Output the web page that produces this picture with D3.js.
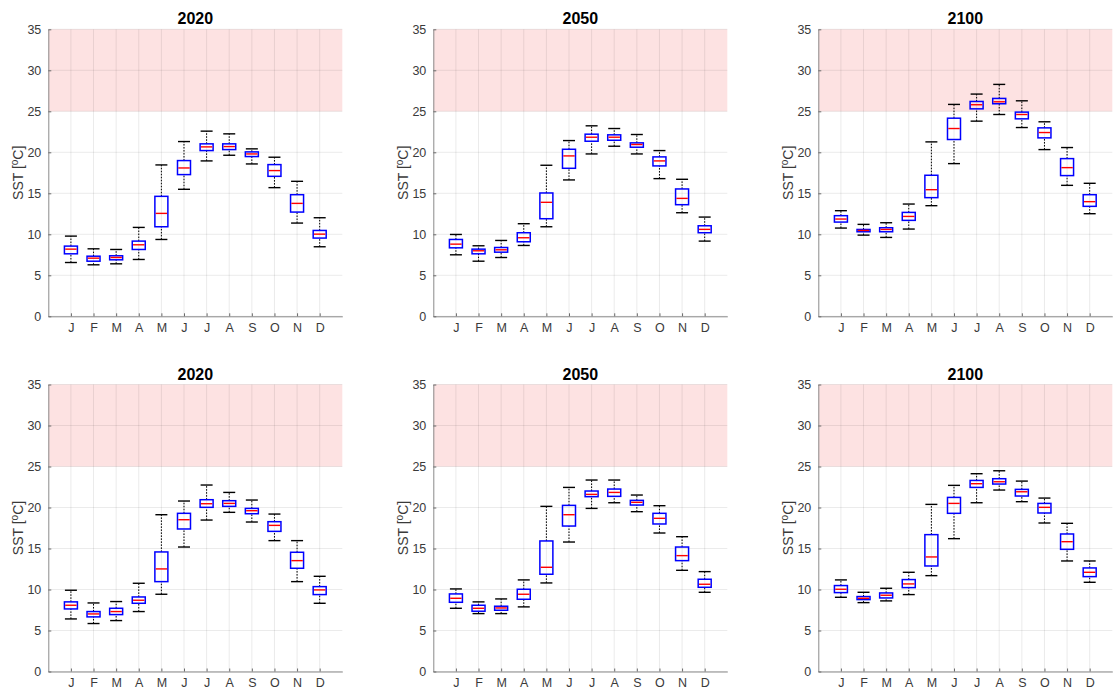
<!DOCTYPE html>
<html>
<head>
<meta charset="utf-8">
<script src="https://cdn.jsdelivr.net/npm/d3@7"></script>
<style>
  html, body { margin: 0; padding: 0; background: #fff; }
  svg { display: block; font-family: "Liberation Sans", Arial, Helvetica, sans-serif; }
</style>
</head>
<body>
<svg id="chart" width="1116" height="693"></svg>
<script>
// Month labels and their positions on the x axis
const months = ["J", "F", "M", "A", "M", "J", "J", "A", "S", "O", "N", "D"];
const yTicks = [0, 5, 10, 15, 20, 25, 30, 35];
const stressBand = [25, 35];   // shaded SST range (°C)

// Monthly SST statistics: [lower whisker, Q1, median, Q3, upper whisker]
const rowA2020 = [
  [6.56, 7.62, 8.19, 8.56, 9.78], [6.28, 6.72, 7.09, 7.33, 8.23], [6.40, 6.89, 7.17, 7.38, 8.15],
  [6.93, 8.15, 8.72, 9.17, 10.84], [9.37, 10.92, 12.55, 14.63, 18.46], [15.49, 17.28, 18.09, 18.99, 21.31],
  [18.95, 20.21, 20.66, 21.03, 22.58], [19.64, 20.33, 20.70, 21.03, 22.25], [18.58, 19.48, 19.80, 20.05, 20.42],
  [15.69, 17.07, 17.77, 18.50, 19.40], [11.37, 12.71, 13.77, 14.83, 16.46], [8.48, 9.54, 10.02, 10.47, 12.02]
];
const rowA2050 = [
  [7.50, 8.35, 8.80, 9.37, 9.98], [6.72, 7.62, 7.99, 8.19, 8.60], [7.17, 7.82, 8.11, 8.39, 9.25],
  [8.64, 9.09, 9.58, 10.19, 11.29], [10.92, 11.90, 13.90, 15.04, 18.42], [16.63, 18.05, 19.56, 20.37, 21.43],
  [19.80, 21.35, 21.84, 22.21, 23.23], [20.74, 21.47, 21.84, 22.13, 22.90], [19.80, 20.62, 20.95, 21.15, 22.17],
  [16.79, 18.34, 18.95, 19.44, 20.21], [12.63, 13.61, 14.38, 15.53, 16.71], [9.17, 10.19, 10.60, 11.04, 12.10]
];
const rowA2100 = [
  [10.76, 11.49, 11.86, 12.27, 12.88], [9.90, 10.31, 10.47, 10.59, 11.21], [9.62, 10.31, 10.59, 10.80, 11.41],
  [10.64, 11.70, 12.18, 12.67, 13.69], [13.49, 14.47, 15.44, 17.20, 21.27], [18.62, 21.56, 22.90, 24.16, 25.84],
  [23.80, 25.30, 25.80, 26.20, 27.10], [24.61, 25.92, 26.16, 26.57, 28.28], [23.02, 24.08, 24.61, 24.90, 26.28],
  [20.33, 21.76, 22.41, 22.98, 23.72], [15.97, 17.16, 18.13, 19.23, 20.58], [12.51, 13.41, 13.98, 14.83, 16.22]
];
const rowB2020 = [
  [6.41, 7.63, 8.08, 8.49, 9.91], [5.85, 6.66, 7.02, 7.31, 8.36], [6.21, 6.94, 7.31, 7.71, 8.53],
  [7.31, 8.32, 8.69, 9.09, 10.76], [9.42, 10.96, 12.51, 14.58, 19.12], [15.18, 17.38, 18.51, 19.29, 20.79],
  [18.47, 20.02, 20.46, 20.95, 22.74], [19.41, 20.14, 20.50, 20.83, 21.84], [18.23, 19.24, 19.61, 19.89, 20.91],
  [15.96, 17.09, 17.82, 18.27, 19.20], [10.96, 12.59, 13.52, 14.54, 15.96], [8.32, 9.38, 9.95, 10.35, 11.61]
];
const rowB2050 = [
  [7.71, 8.44, 8.93, 9.46, 10.07], [7.06, 7.35, 7.71, 8.08, 8.49], [7.06, 7.47, 7.75, 7.96, 8.85],
  [7.88, 8.81, 9.42, 10.03, 11.17], [10.80, 11.86, 12.71, 15.92, 20.14], [15.79, 17.74, 19.12, 20.26, 22.45],
  [19.89, 21.32, 21.60, 22.01, 23.35], [20.58, 21.36, 21.84, 22.25, 23.35], [19.49, 20.30, 20.63, 20.87, 21.52],
  [16.89, 17.99, 18.68, 19.29, 20.22], [12.34, 13.52, 14.13, 15.18, 16.44], [9.66, 10.27, 10.64, 11.25, 12.18]
];
const rowB2100 = [
  [9.05, 9.62, 10.03, 10.48, 11.17], [8.40, 8.77, 8.93, 9.14, 9.66], [8.61, 8.97, 9.30, 9.58, 10.15],
  [9.38, 10.23, 10.68, 11.21, 12.10], [11.69, 12.87, 13.97, 16.69, 20.38], [16.20, 19.29, 20.50, 21.23, 22.70],
  [20.58, 22.45, 22.90, 23.30, 24.12], [22.13, 22.86, 23.14, 23.51, 24.48], [20.71, 21.40, 21.92, 22.21, 23.22],
  [18.11, 19.33, 20.02, 20.50, 21.15], [13.48, 14.90, 15.83, 16.77, 18.07], [10.88, 11.57, 12.10, 12.63, 13.48]
];

const panels = [
  { title: "2020", data: rowA2020, col: 0, row: 0 },
  { title: "2050", data: rowA2050, col: 1, row: 0 },
  { title: "2100", data: rowA2100, col: 2, row: 0 },
  { title: "2020", data: rowB2020, col: 0, row: 1 },
  { title: "2050", data: rowB2050, col: 1, row: 1 },
  { title: "2100", data: rowB2100, col: 2, row: 1 }
];

// Layout of the 2x3 grid of axes
const colLeft = [48.3, 433.3, 818.3];
const rowTop = [29.3, 384.5];
const plotW = 294;
const plotH = 287;
const boxHalf = 6.5;
const capHalf = 6;

const svg = d3.select("#chart");

panels.forEach(p => {
  const g = svg.append("g")
    .attr("transform", `translate(${colLeft[p.col]},${rowTop[p.row]})`);

  const x = d3.scaleLinear().domain([0, 13]).range([0, plotW]);
  const y = d3.scaleLinear().domain([0, 35]).range([plotH, 0]);
  const monthIdx = d3.range(1, 13);

  // shaded band
  g.append("rect")
    .attr("x", x(0)).attr("width", x(13) - x(0))
    .attr("y", y(stressBand[1])).attr("height", y(stressBand[0]) - y(stressBand[1]))
    .attr("fill", "#fde2e2");

  // grid
  const grid = g.append("g").attr("class", "grid");
  grid.selectAll("line.gx").data(monthIdx).join("line")
    .attr("x1", d => x(d)).attr("x2", d => x(d))
    .attr("y1", y(0)).attr("y2", y(35))
    .attr("stroke", "#262626").attr("stroke-opacity", 0.09).attr("stroke-width", 1);
  grid.selectAll("line.gy").data(yTicks).join("line")
    .attr("x1", x(0)).attr("x2", x(13))
    .attr("y1", d => y(d)).attr("y2", d => y(d))
    .attr("stroke", "#262626").attr("stroke-opacity", 0.09).attr("stroke-width", 1);

  // axes
  const xAxis = d3.axisBottom(x)
    .tickValues(monthIdx)
    .tickFormat(d => months[d - 1])
    .tickSizeInner(-3).tickSizeOuter(0).tickPadding(7);
  const yAxis = d3.axisLeft(y)
    .tickValues(yTicks)
    .tickSizeInner(-3).tickSizeOuter(0).tickPadding(7);

  const gx = g.append("g").attr("transform", `translate(0,${plotH})`).call(xAxis);
  const gy = g.append("g").call(yAxis);
  [gx, gy].forEach(a => {
    a.select(".domain").attr("stroke", "#8a8a8a").attr("stroke-width", 1);
    a.selectAll(".tick line").attr("stroke", "#6a6a6a");
    a.selectAll(".tick text").attr("fill", "#3a3a3a").attr("font-size", 12.5)
      .attr("font-family", "Liberation Sans, Arial, sans-serif");
  });

  // boxes
  const boxes = g.append("g").selectAll("g.box").data(p.data).join("g")
    .attr("transform", (d, i) => `translate(${x(i + 1)},0)`);

  boxes.append("line")  // lower whisker
    .attr("x1", 0).attr("x2", 0).attr("y1", d => y(d[0])).attr("y2", d => y(d[1]))
    .attr("stroke", "#000").attr("stroke-width", 1).attr("stroke-dasharray", "1.6,1.4");
  boxes.append("line")  // upper whisker
    .attr("x1", 0).attr("x2", 0).attr("y1", d => y(d[3])).attr("y2", d => y(d[4]))
    .attr("stroke", "#000").attr("stroke-width", 1).attr("stroke-dasharray", "1.6,1.4");
  boxes.append("line")
    .attr("x1", -capHalf).attr("x2", capHalf).attr("y1", d => y(d[0])).attr("y2", d => y(d[0]))
    .attr("stroke", "#000").attr("stroke-width", 1.4);
  boxes.append("line")
    .attr("x1", -capHalf).attr("x2", capHalf).attr("y1", d => y(d[4])).attr("y2", d => y(d[4]))
    .attr("stroke", "#000").attr("stroke-width", 1.4);
  boxes.append("rect")
    .attr("x", -boxHalf).attr("width", boxHalf * 2)
    .attr("y", d => y(d[3])).attr("height", d => y(d[1]) - y(d[3]))
    .attr("fill", "none").attr("stroke", "#0000ff").attr("stroke-width", 1.5);
  boxes.append("line")
    .attr("x1", -boxHalf + 0.8).attr("x2", boxHalf - 0.8)
    .attr("y1", d => y(d[2])).attr("y2", d => y(d[2]))
    .attr("stroke", "#ff0000").attr("stroke-width", 1.4);

  // title
  g.append("text")
    .attr("x", plotW / 2).attr("y", -5)
    .attr("text-anchor", "middle")
    .attr("font-size", 16).attr("font-weight", "bold").attr("fill", "#000")
    .text(p.title);

  // y label
  const yl = g.append("text")
    .attr("transform", `translate(${-25},${plotH / 2}) rotate(-90)`)
    .attr("text-anchor", "middle")
    .attr("font-size", 14).attr("fill", "#3a3a3a");
  yl.append("tspan").text("SST [");
  yl.append("tspan").attr("font-size", 10).attr("dy", -5).text("o");
  yl.append("tspan").attr("dy", 5).text("C]");
});
</script>
</body>
</html>
